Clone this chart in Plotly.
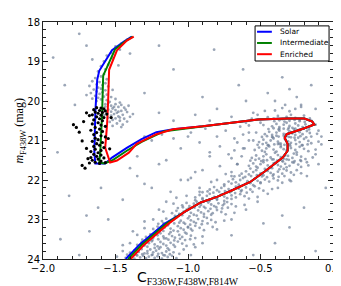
import plotly.graph_objects as go

# ---------------- isochrones ----------------
solar_x = [-1.429, -1.333, -1.163, -1.027, -0.912, -0.796, -0.687, -0.571, -0.469, -0.401, -0.347, -0.313,
           -0.313, -0.333, -0.320, -0.197, -0.129, -0.143, -0.197, -0.313, -0.517, -0.741, -0.898, -1.102,
           -1.218, -1.320, -1.422, -1.524, -1.571, -1.639, -1.646, -1.639, -1.626, -1.612, -1.524, -1.442, -1.388]
solar_y = [24.00, 23.630, 23.111, 22.815, 22.568, 22.420, 22.247, 22.049, 21.778, 21.580, 21.432, 21.259,
           21.086, 20.938, 20.840, 20.691, 20.593, 20.519, 20.444, 20.444, 20.469, 20.568, 20.642, 20.716,
           20.790, 20.963, 21.185, 21.432, 21.580, 21.580, 21.309, 20.272, 19.457, 19.235, 18.716, 18.494, 18.370]

inter_x = [-1.412, -1.320, -1.150, -1.027, -0.912, -0.796, -0.687, -0.571, -0.469, -0.401, -0.347, -0.313,
           -0.313, -0.333, -0.320, -0.197, -0.129, -0.143, -0.197, -0.313, -0.517, -0.741, -0.898, -1.163,
           -1.320, -1.422, -1.524, -1.578, -1.612, -1.605, -1.592, -1.585, -1.503, -1.435, -1.381]
inter_y = [24.00, 23.642, 23.111, 22.815, 22.568, 22.420, 22.247, 22.049, 21.778, 21.580, 21.432, 21.259,
           21.086, 20.938, 20.840, 20.691, 20.593, 20.519, 20.444, 20.444, 20.469, 20.568, 20.642, 20.765,
           21.037, 21.259, 21.506, 21.580, 21.556, 21.309, 20.272, 19.358, 18.691, 18.494, 18.370]

enr_x = [-1.395, -1.306, -1.136, -1.027, -0.912, -0.796, -0.687, -0.571, -0.469, -0.401, -0.347, -0.313,
         -0.313, -0.333, -0.320, -0.197, -0.129, -0.143, -0.197, -0.313, -0.517, -0.741, -0.898, -1.102,
         -1.218, -1.354, -1.408, -1.490, -1.537, -1.571, -1.558, -1.551, -1.544, -1.490, -1.422, -1.374]
enr_y = [24.00, 23.654, 23.111, 22.815, 22.568, 22.420, 22.247, 22.049, 21.778, 21.580, 21.432, 21.259,
         21.086, 20.938, 20.840, 20.691, 20.593, 20.519, 20.444, 20.444, 20.469, 20.568, 20.642, 20.716,
         20.840, 21.086, 21.309, 21.506, 21.556, 21.185, 20.593, 20.025, 19.210, 18.716, 18.469, 18.370]

legend_names = ["Solar", "Intermediate", "Enriched"]
legend_colors = ["#0000ff", "#008000", "#ff0000"]

# ---------------- black stars ----------------
black_stars = [
    (-1.63, 20.17), (-1.60, 20.18), (-1.58, 20.20), (-1.65, 20.22), (-1.61, 20.24), (-1.57, 20.25),
    (-1.64, 20.28), (-1.59, 20.29), (-1.62, 20.31), (-1.56, 20.33), (-1.66, 20.35), (-1.60, 20.36),
    (-1.63, 20.40), (-1.58, 20.42), (-1.68, 20.37), (-1.61, 20.45),
    (-1.65, 20.48), (-1.59, 20.50), (-1.62, 20.55), (-1.66, 20.58), (-1.60, 20.61), (-1.57, 20.64),
    (-1.64, 20.67), (-1.61, 20.71), (-1.67, 20.74), (-1.59, 20.77), (-1.63, 20.80), (-1.65, 20.85),
    (-1.60, 20.88), (-1.57, 20.91), (-1.64, 20.94), (-1.62, 20.98), (-1.66, 21.02), (-1.59, 21.05),
    (-1.63, 21.08), (-1.61, 21.12), (-1.65, 21.15), (-1.58, 21.18), (-1.64, 21.22), (-1.60, 21.25),
    (-1.67, 21.28), (-1.62, 21.31),
    (-1.65, 21.35), (-1.60, 21.37), (-1.63, 21.40), (-1.67, 21.43), (-1.58, 21.44), (-1.62, 21.47),
    (-1.66, 21.50), (-1.60, 21.52), (-1.64, 21.55), (-1.68, 21.57), (-1.61, 21.58), (-1.57, 21.56),
    (-1.77, 20.67), (-1.75, 20.79), (-1.79, 20.60), (-1.73, 21.01), (-1.72, 20.52), (-1.70, 21.20),
    (-1.69, 21.46), (-1.73, 21.63), (-1.71, 21.70), (-1.54, 21.21), (-1.55, 20.95), (-1.53, 20.42),
    (-1.70, 20.30),
]

# ---------------- grey stars ----------------
rgb_stars = [
    (-1.42, 18.45), (-1.46, 18.55), (-1.50, 18.62), (-1.47, 18.70), (-1.53, 18.78), (-1.56, 18.85),
    (-1.52, 18.92), (-1.58, 19.00), (-1.55, 19.08), (-1.60, 19.12), (-1.57, 19.20), (-1.62, 19.25),
    (-1.58, 19.32), (-1.60, 19.38), (-1.64, 19.42), (-1.56, 19.45), (-1.70, 18.60), (-1.48, 19.10),
    (-1.66, 18.95),
    (-1.66, 19.50), (-1.61, 19.52), (-1.57, 19.55), (-1.63, 19.58), (-1.59, 19.60), (-1.68, 19.62),
    (-1.55, 19.63), (-1.62, 19.66), (-1.60, 19.69), (-1.65, 19.71), (-1.57, 19.73), (-1.52, 19.72),
    (-1.63, 19.76), (-1.59, 19.78), (-1.67, 19.80), (-1.61, 19.82), (-1.56, 19.84), (-1.64, 19.87),
    (-1.58, 19.89), (-1.53, 19.90), (-1.62, 19.92), (-1.66, 19.94), (-1.60, 19.96), (-1.56, 19.98),
    (-1.63, 20.00), (-1.50, 19.95), (-1.70, 19.85), (-1.54, 20.02),
    (-1.55, 20.05), (-1.50, 20.08), (-1.46, 20.10), (-1.53, 20.12), (-1.57, 20.14), (-1.48, 20.15),
    (-1.44, 20.17), (-1.52, 20.19), (-1.55, 20.22), (-1.50, 20.23), (-1.46, 20.25), (-1.53, 20.27),
    (-1.42, 20.28), (-1.49, 20.30), (-1.56, 20.31), (-1.51, 20.33), (-1.45, 20.35), (-1.53, 20.37),
    (-1.48, 20.39), (-1.55, 20.42), (-1.50, 20.44), (-1.44, 20.45), (-1.52, 20.48), (-1.47, 20.50),
    (-1.54, 20.53), (-1.49, 20.57), (-1.45, 20.60), (-1.52, 20.63), (-1.40, 20.40), (-1.43, 20.22),
    (-1.62, 20.55), (-1.60, 20.80), (-1.64, 21.00), (-1.61, 21.30),
    (-1.47, 20.04), (-1.41, 20.12), (-1.38, 20.33), (-1.47, 20.42), (-1.42, 20.52), (-1.57, 20.08),
    (-1.51, 20.15), (-1.48, 20.27), (-1.58, 20.36), (-1.46, 20.66),
]

field_stars = [
    (-1.93, 18.9), (-1.85, 19.6), (-1.78, 20.1), (-1.90, 21.3), (-1.82, 22.4), (-1.70, 22.9), (-1.88, 23.5),
    (-1.75, 23.9), (-1.60, 22.2), (-1.55, 23.0), (-1.45, 22.5), (-1.35, 21.9), (-1.30, 19.8), (-1.25, 22.2),
    (-1.20, 20.3), (-1.15, 21.5), (-1.10, 19.2), (-1.05, 22.0), (-1.00, 20.9), (-0.95, 21.8), (-0.90, 19.9),
    (-0.85, 21.3), (-0.80, 20.2), (-0.75, 22.6), (-0.70, 21.9), (-0.65, 19.6), (-0.60, 20.0), (-0.55, 21.0),
    (-0.50, 18.9), (-0.45, 19.8), (-0.40, 23.6), (-0.35, 19.4), (-0.30, 23.2), (-0.25, 19.9), (-0.20, 22.7),
    (-0.15, 19.6), (-0.10, 21.6), (-0.08, 20.9), (-0.05, 22.2), (-0.12, 23.8), (-0.55, 23.9), (-0.70, 23.4),
    (-0.95, 23.7), (-1.40, 18.8), (-1.75, 18.3), (-1.20, 18.6), (-0.82, 18.7), (-0.62, 19.2), (-0.28, 18.5),
    (-1.00, 23.2), (-1.62, 22.7), (-1.68, 23.3), (-1.30, 20.9), (-0.40, 20.0), (-0.30, 19.7), (-0.22, 20.1),
    (-0.35, 22.9), (-0.18, 21.9), (-0.12, 20.2), (-0.48, 23.1),
    (-1.25, 21.0), (-1.18, 20.85), (-1.10, 20.95), (-1.05, 21.2), (-0.98, 20.8), (-0.92, 21.05),
    (-0.88, 20.7), (-0.85, 21.4), (-0.80, 20.9), (-0.78, 21.15), (-0.74, 20.75), (-0.72, 21.35),
    (-0.68, 20.95), (-0.66, 21.6), (-0.64, 20.65), (-0.62, 21.2), (-0.60, 20.55), (-0.58, 20.8),
    (-0.85, 20.5), (-0.70, 20.4), (-0.95, 20.35), (-1.10, 20.5), (-0.55, 20.3), (-1.35, 21.4),
    (-1.40, 21.7), (-1.30, 22.1), (-1.20, 21.6), (-1.12, 22.3), (-1.00, 22.0), (-0.92, 22.3),
]

ms_stars = [
    (-1.43, 23.97), (-1.40, 23.93), (-1.37, 23.99), (-1.35, 23.91), (-1.33, 23.96), (-1.31, 23.92), (-1.29, 23.98),
    (-1.27, 23.94), (-1.25, 23.90), (-1.23, 23.97), (-1.21, 23.93), (-1.18, 23.99), (-1.16, 23.91), (-1.14, 23.95),
    (-1.49, 23.94), (-1.08, 23.98), (-1.11, 23.92),
    (-1.40, 23.84), (-1.37, 23.78), (-1.34, 23.82), (-1.32, 23.75), (-1.30, 23.86), (-1.28, 23.80), (-1.26, 23.76),
    (-1.24, 23.83), (-1.22, 23.79), (-1.20, 23.74), (-1.18, 23.85), (-1.15, 23.81), (-1.13, 23.77), (-1.10, 23.83),
    (-1.45, 23.80), (-1.03, 23.76), (-1.06, 23.87),
    (-1.35, 23.64), (-1.32, 23.58), (-1.30, 23.66), (-1.27, 23.60), (-1.25, 23.55), (-1.23, 23.63), (-1.21, 23.68),
    (-1.19, 23.57), (-1.17, 23.62), (-1.15, 23.66), (-1.12, 23.59), (-1.10, 23.64), (-1.07, 23.56), (-1.04, 23.61),
    (-1.01, 23.67), (-1.40, 23.60), (-0.96, 23.63),
    (-1.29, 23.44), (-1.26, 23.38), (-1.24, 23.46), (-1.21, 23.40), (-1.19, 23.35), (-1.17, 23.43), (-1.15, 23.48),
    (-1.13, 23.37), (-1.11, 23.42), (-1.09, 23.46), (-1.06, 23.39), (-1.04, 23.44), (-1.01, 23.36), (-0.98, 23.41),
    (-0.95, 23.47), (-1.35, 23.39), (-0.90, 23.43),
    (-1.24, 23.24), (-1.21, 23.18), (-1.19, 23.26), (-1.16, 23.20), (-1.14, 23.15), (-1.12, 23.23), (-1.10, 23.28),
    (-1.07, 23.17), (-1.05, 23.22), (-1.03, 23.26), (-1.00, 23.19), (-0.98, 23.24), (-0.95, 23.16), (-0.92, 23.21),
    (-0.89, 23.27), (-1.30, 23.22), (-0.83, 23.19),
    (-1.18, 23.04), (-1.15, 22.98), (-1.13, 23.06), (-1.10, 23.00), (-1.08, 22.95), (-1.05, 23.03), (-1.03, 23.08),
    (-1.00, 22.97), (-0.98, 23.02), (-0.96, 23.06), (-0.93, 22.99), (-0.90, 23.04), (-0.87, 22.96), (-0.84, 23.01),
    (-0.81, 23.07), (-1.24, 23.00), (-0.75, 23.03),
    (-1.11, 22.84), (-1.08, 22.78), (-1.06, 22.86), (-1.03, 22.80), (-1.01, 22.75), (-0.98, 22.83), (-0.96, 22.88),
    (-0.93, 22.77), (-0.91, 22.82), (-0.89, 22.86), (-0.86, 22.79), (-0.83, 22.84), (-0.80, 22.76), (-0.77, 22.81),
    (-0.74, 22.87), (-1.17, 22.80), (-0.68, 22.83),
    (-1.04, 22.64), (-1.01, 22.58), (-0.99, 22.66), (-0.96, 22.60), (-0.94, 22.55), (-0.91, 22.63), (-0.89, 22.68),
    (-0.86, 22.57), (-0.84, 22.62), (-0.82, 22.66), (-0.79, 22.59), (-0.76, 22.64), (-0.73, 22.56), (-0.70, 22.61),
    (-0.67, 22.67), (-1.10, 22.60), (-0.61, 22.63),
    (-0.95, 22.44), (-0.92, 22.38), (-0.90, 22.46), (-0.87, 22.40), (-0.85, 22.35), (-0.82, 22.43), (-0.80, 22.48),
    (-0.77, 22.37), (-0.75, 22.42), (-0.73, 22.46), (-0.70, 22.39), (-0.67, 22.44), (-0.64, 22.36), (-0.61, 22.41),
    (-0.58, 22.47), (-1.01, 22.40), (-0.52, 22.43),
    (-0.85, 22.24), (-0.82, 22.18), (-0.80, 22.26), (-0.77, 22.20), (-0.75, 22.15), (-0.72, 22.23), (-0.70, 22.28),
    (-0.67, 22.17), (-0.65, 22.22), (-0.63, 22.26), (-0.60, 22.19), (-0.57, 22.24), (-0.54, 22.16), (-0.51, 22.21),
    (-0.48, 22.27), (-0.92, 22.20), (-0.42, 22.23),
    (-0.72, 22.04), (-0.69, 21.98), (-0.67, 22.06), (-0.64, 22.00), (-0.62, 21.95), (-0.59, 22.03), (-0.57, 22.08),
    (-0.54, 21.97), (-0.52, 22.02), (-0.50, 22.06), (-0.47, 21.99), (-0.44, 22.04), (-0.41, 21.96), (-0.38, 22.01),
    (-0.35, 22.07), (-0.80, 22.00), (-0.29, 22.03),
    (-0.63, 21.84), (-0.60, 21.78), (-0.58, 21.86), (-0.55, 21.80), (-0.53, 21.75), (-0.50, 21.83), (-0.48, 21.88),
    (-0.45, 21.77), (-0.43, 21.82), (-0.41, 21.86), (-0.38, 21.79), (-0.35, 21.84), (-0.32, 21.76), (-0.29, 21.81),
    (-0.27, 21.87), (-0.70, 21.80), (-0.22, 21.83),
    (-0.58, 21.64), (-0.55, 21.58), (-0.53, 21.66), (-0.50, 21.60), (-0.48, 21.55), (-0.45, 21.63), (-0.43, 21.68),
    (-0.40, 21.57), (-0.38, 21.62), (-0.36, 21.66), (-0.33, 21.59), (-0.30, 21.64), (-0.27, 21.56), (-0.24, 21.61),
    (-0.22, 21.67), (-0.66, 21.60), (-0.17, 21.63),
    (-0.56, 21.44), (-0.53, 21.38), (-0.51, 21.46), (-0.48, 21.40), (-0.46, 21.35), (-0.43, 21.43), (-0.41, 21.48),
    (-0.38, 21.37), (-0.36, 21.42), (-0.34, 21.46), (-0.31, 21.39), (-0.28, 21.44), (-0.25, 21.36), (-0.22, 21.41),
    (-0.19, 21.47), (-0.63, 21.40), (-0.14, 21.43),
    (-0.54, 21.24), (-0.51, 21.18), (-0.49, 21.26), (-0.46, 21.20), (-0.44, 21.15), (-0.41, 21.23), (-0.39, 21.28),
    (-0.36, 21.17), (-0.34, 21.22), (-0.32, 21.26), (-0.29, 21.19), (-0.26, 21.24), (-0.23, 21.16), (-0.20, 21.21),
    (-0.17, 21.27), (-0.61, 21.20), (-0.12, 21.23),
    (-0.51, 21.04), (-0.48, 20.98), (-0.46, 21.06), (-0.43, 21.00), (-0.41, 20.95), (-0.38, 21.03), (-0.36, 21.08),
    (-0.33, 20.97), (-0.31, 21.02), (-0.29, 21.06), (-0.26, 20.99), (-0.23, 21.04), (-0.20, 20.96), (-0.17, 21.01),
    (-0.15, 21.07), (-0.58, 21.00), (-0.10, 21.03),
    (-0.47, 20.84), (-0.44, 20.78), (-0.42, 20.86), (-0.39, 20.80), (-0.37, 20.75), (-0.34, 20.83), (-0.32, 20.88),
    (-0.30, 20.77), (-0.28, 20.82), (-0.26, 20.86), (-0.23, 20.79), (-0.21, 20.84), (-0.18, 20.76), (-0.16, 20.81),
    (-0.53, 20.80), (-0.11, 20.83),
    (-0.42, 20.64), (-0.39, 20.58), (-0.37, 20.66), (-0.34, 20.60), (-0.32, 20.55), (-0.30, 20.63), (-0.28, 20.68),
    (-0.26, 20.57), (-0.24, 20.62), (-0.21, 20.66), (-0.19, 20.59), (-0.16, 20.64), (-0.48, 20.61), (-0.12, 20.60),
    (-0.41, 20.44), (-0.38, 20.38), (-0.35, 20.46), (-0.32, 20.40), (-0.29, 20.35), (-0.26, 20.43), (-0.23, 20.48),
    (-0.20, 20.37), (-0.45, 20.41), (-0.16, 20.44),
    (-0.40, 20.24), (-0.35, 20.18), (-0.30, 20.26), (-0.26, 20.20), (-0.22, 20.15), (-0.33, 20.10),
    (-0.45, 21.12), (-0.40, 21.31), (-0.35, 21.52), (-0.30, 21.10), (-0.27, 21.33), (-0.42, 20.91), (-0.37, 20.70),
    (-0.33, 21.38), (-0.28, 21.55), (-0.24, 20.93), (-0.48, 21.50), (-0.44, 21.70), (-0.39, 20.88), (-0.31, 20.72),
    (-0.25, 21.30), (-0.21, 21.12), (-0.36, 21.13), (-0.32, 21.48), (-0.47, 21.29), (-0.29, 20.92), (-0.34, 21.72),
    (-0.22, 21.52), (-0.41, 21.58), (-0.38, 21.09), (-0.26, 20.70),
    (-1.33, 23.71), (-1.28, 23.69), (-1.23, 23.72), (-1.19, 23.70), (-1.14, 23.73), (-1.09, 23.69),
    (-1.22, 23.31), (-1.17, 23.29), (-1.12, 23.32), (-1.07, 23.30), (-1.02, 23.33), (-0.97, 23.28),
    (-1.09, 22.91), (-1.04, 22.89), (-0.99, 22.92), (-0.94, 22.90), (-0.89, 22.93), (-0.84, 22.88),
    (-0.95, 22.51), (-0.90, 22.49), (-0.85, 22.52), (-0.80, 22.50), (-0.75, 22.53), (-0.70, 22.48),
    (-0.75, 22.11), (-0.70, 22.09), (-0.65, 22.12), (-0.60, 22.10), (-0.55, 22.13), (-0.50, 22.08),
    (-0.57, 21.71), (-0.52, 21.69), (-0.47, 21.72), (-0.42, 21.70), (-0.37, 21.73), (-0.32, 21.68),
]

ms_stars_extra = [
    (-1.42, 23.89), (-1.385, 23.87), (-1.355, 23.90), (-1.315, 23.88), (-1.28, 23.86), (-1.245, 23.89),
    (-1.205, 23.87), (-1.17, 23.90), (-1.125, 23.88),
    (-1.315, 23.51), (-1.275, 23.49), (-1.245, 23.52), (-1.205, 23.50), (-1.165, 23.48), (-1.135, 23.51),
    (-1.095, 23.53), (-1.055, 23.49), (-1.02, 23.52), (-0.985, 23.50),
    (-1.205, 23.11), (-1.17, 23.09), (-1.135, 23.12), (-1.095, 23.10), (-1.06, 23.08), (-1.02, 23.11),
    (-0.985, 23.13), (-0.945, 23.09), (-0.905, 23.12), (-0.865, 23.10),
    (-1.07, 22.71), (-1.035, 22.69), (-0.995, 22.72), (-0.955, 22.70), (-0.92, 22.68), (-0.88, 22.71),
    (-0.845, 22.73), (-0.805, 22.69), (-0.765, 22.72), (-0.725, 22.70),
    (-0.90, 22.31), (-0.865, 22.29), (-0.825, 22.32), (-0.785, 22.30), (-0.745, 22.28), (-0.71, 22.31),
    (-0.675, 22.33), (-0.635, 22.29), (-0.595, 22.32), (-0.555, 22.30),
    (-0.68, 21.91), (-0.645, 21.89), (-0.605, 21.92), (-0.565, 21.90), (-0.525, 21.88), (-0.49, 21.91),
    (-0.455, 21.93), (-0.415, 21.89), (-0.375, 21.92), (-0.335, 21.90),
    (-0.57, 21.51), (-0.535, 21.49), (-0.495, 21.52), (-0.455, 21.50), (-0.42, 21.48), (-0.385, 21.51),
    (-0.345, 21.53), (-0.305, 21.49), (-0.265, 21.52), (-0.225, 21.50),
    (-0.52, 21.11), (-0.485, 21.09), (-0.445, 21.12), (-0.405, 21.10), (-0.37, 21.08), (-0.335, 21.11),
    (-0.295, 21.13), (-0.255, 21.09), (-0.215, 21.12), (-0.175, 21.10),
    (-0.49, 20.91), (-0.455, 20.89), (-0.415, 20.92), (-0.375, 20.90), (-0.34, 20.88), (-0.305, 20.91),
    (-0.265, 20.93), (-0.225, 20.89), (-0.185, 20.92), (-0.15, 20.90),
    (-0.445, 20.71), (-0.41, 20.69), (-0.375, 20.72), (-0.34, 20.70), (-0.305, 20.68), (-0.27, 20.71),
    (-0.235, 20.73), (-0.20, 20.69), (-0.165, 20.72),
    (-0.405, 20.51), (-0.37, 20.49), (-0.335, 20.52), (-0.30, 20.50), (-0.265, 20.48), (-0.23, 20.51),
    (-0.195, 20.53),
    (-0.98, 21.95), (-0.90, 21.75), (-0.84, 22.05), (-0.78, 21.65), (-0.74, 21.85), (-0.70, 21.45),
    (-0.68, 21.25), (-0.66, 21.05), (-0.62, 20.85), (-0.58, 20.62), (-0.56, 20.45), (-0.52, 20.35),
    (-0.50, 20.55), (-0.47, 20.25), (-1.20, 22.75), (-1.15, 22.55), (-1.08, 22.45), (-1.30, 23.05),
    (-1.38, 23.30), (-1.45, 23.65), (-0.60, 22.75), (-0.52, 22.55), (-0.45, 22.35), (-0.38, 22.20),
    (-0.30, 22.00), (-0.25, 21.75), (-0.18, 21.55), (-0.12, 21.35), (-0.70, 23.00), (-0.80, 23.25),
    (-0.90, 23.60), (-0.98, 23.90), (-0.15, 20.50), (-0.10, 20.75), (-0.08, 21.10),
]

grey = ms_stars + ms_stars_extra + rgb_stars + field_stars

fig = go.Figure()
fig.add_trace(go.Scatter(
    x=[p[0] for p in grey], y=[p[1] for p in grey], mode="markers",
    marker=dict(size=2.8, color="rgba(112,128,152,0.7)", line=dict(width=0)),
    showlegend=False, hoverinfo="skip"))

for xs, ys, name, col in [(solar_x, solar_y, legend_names[0], legend_colors[0]),
                          (inter_x, inter_y, legend_names[1], legend_colors[1]),
                          (enr_x, enr_y, legend_names[2], legend_colors[2])]:
    fig.add_trace(go.Scatter(x=xs, y=ys, mode="lines", name=name,
                             line=dict(color=col, width=2), showlegend=False))

fig.add_trace(go.Scatter(
    x=[p[0] for p in black_stars], y=[p[1] for p in black_stars], mode="markers",
    marker=dict(size=3.2, color="black", line=dict(width=0)), showlegend=False))

L, R, T, B = 35, 12, 8, 35
W, H = 341, 286
pw, ph = W - L - R, H - T - B


def px2paper(px, py):
    return (px - L) / pw, (H - B - py) / ph


axis_common = dict(showgrid=False, zeroline=False, showline=True, linecolor="#222", linewidth=1,
                   mirror="allticks", ticks="inside", ticklen=5, tickwidth=1, tickcolor="#222",
                   tickfont=dict(family="DejaVu Sans", size=10, color="black"))
fig.update_xaxes(range=[-2, 0], tick0=0, dtick=0.5, tickformat=".1f",
                 minor=dict(dtick=0.1, tick0=0, ticks="inside", ticklen=3, tickcolor="#222"),
                 **axis_common)
fig.update_yaxes(range=[24, 18], tick0=18, dtick=1,
                 minor=dict(dtick=0.2, tick0=18, ticks="inside", ticklen=3, tickcolor="#222"),
                 **axis_common)

shapes = []
annotations = []
bx0, by0 = px2paper(250, 48)
bx1, by1 = px2paper(325, 12)
shapes.append(dict(type="rect", xref="paper", yref="paper", x0=bx0, y0=by0, x1=bx1, y1=by1,
                   line=dict(color="black", width=1), fillcolor="white", layer="above"))
for i, (name, col) in enumerate(zip(legend_names, legend_colors)):
    py = 18 + i * 11.5
    lx0, ly = px2paper(252, py)
    lx1, _ = px2paper(267, py)
    shapes.append(dict(type="line", xref="paper", yref="paper", x0=lx0, x1=lx1, y0=ly, y1=ly,
                       line=dict(color=col, width=2), layer="above"))
    tx, _ = px2paper(273, py)
    annotations.append(dict(xref="paper", yref="paper", x=tx, y=ly, xanchor="left", yanchor="middle",
                            text=name, showarrow=False,
                            font=dict(family="DejaVu Sans", size=7.5, color="black")))

yx, yy = px2paper(12, 120)
annotations.append(dict(xref="paper", yref="paper", x=yx, y=yy, xanchor="center", yanchor="middle",
                        textangle=-90, showarrow=False,
                        text="<i>m</i><sub>F438W</sub> (mag)",
                        font=dict(family="Liberation Serif", size=12, color="black")))
xx, xy = px2paper(182, 270)
annotations.append(dict(xref="paper", yref="paper", x=xx, y=xy, xanchor="center", yanchor="middle",
                        showarrow=False, borderpad=0,
                        text="C<sub><span style='font-family:Liberation Serif'>F336W,F438W,F814W</span></sub>",
                        font=dict(family="DejaVu Sans", size=14, color="black")))

fig.update_layout(width=W, height=H, margin=dict(l=L, r=R, t=T, b=B, pad=0),
                  paper_bgcolor="white", plot_bgcolor="white",
                  shapes=shapes, annotations=annotations, showlegend=False)

fig.write_html("out.html")
